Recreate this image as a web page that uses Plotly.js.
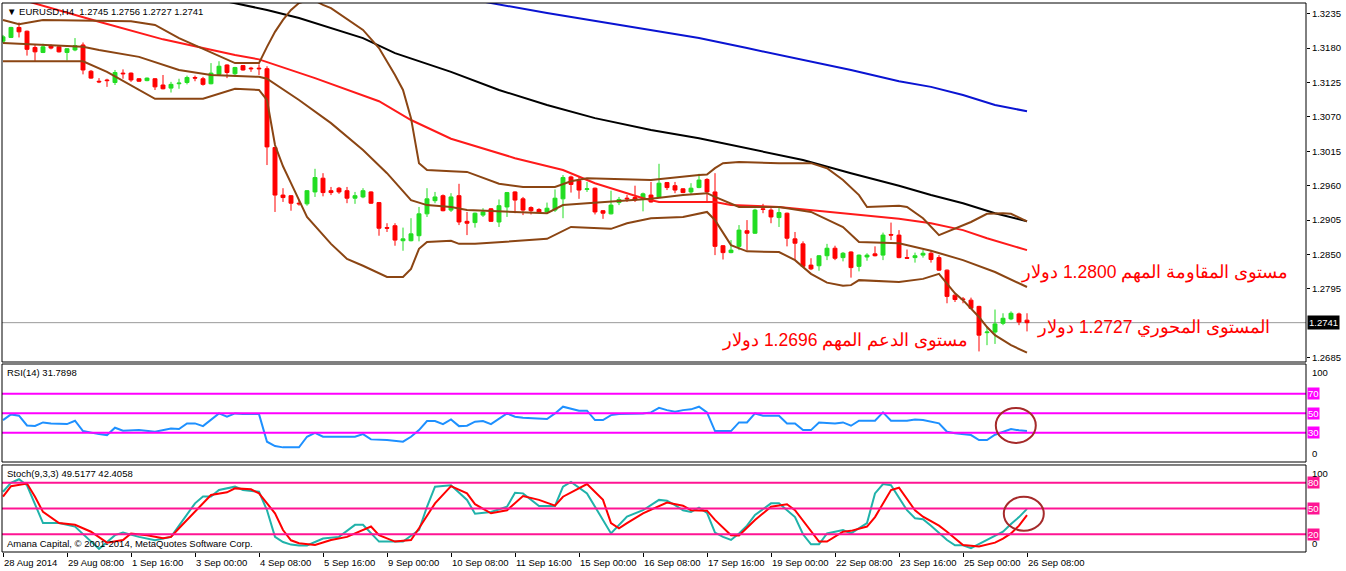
<!DOCTYPE html>
<html><head><meta charset="utf-8">
<script src="https://cdn.plot.ly/plotly-3.0.1.min.js"></script>
<style>html,body{margin:0;padding:0;background:#fff}#chart{width:1346px;height:571px}</style>
</head><body><div id="chart"></div>
<script>
// ---- price data (EURUSD H4), bar index 0 = 28 Aug 2014 00:00 ----
const openP = [1.3191,1.3197,1.3213,1.3207,1.3181,1.3173,1.3184,1.3182,1.3173,1.3177,1.3185,1.3143,1.3127,1.3129,1.3125,1.3140,1.3140,1.3131,1.3128,1.3131,1.3121,1.3116,1.3123,1.3125,1.3133,1.3131,1.3123,1.3138,1.3153,1.3139,1.3152,1.3148,1.3148,1.3147,1.3021,1.2945,1.2944,1.2932,1.2931,1.2950,1.2972,1.2952,1.2956,1.2952,1.2940,1.2942,1.2950,1.2933,1.2893,1.2896,1.2872,1.2872,1.2880,1.2915,1.2936,1.2944,1.2921,1.2944,1.2903,1.2901,1.2913,1.2923,1.2902,1.2926,1.2950,1.2939,1.2925,1.2922,1.2918,1.2921,1.2939,1.2974,1.2968,1.2954,1.2956,1.2920,1.2915,1.2933,1.2940,1.2941,1.2939,1.2945,1.2942,1.2965,1.2960,1.2955,1.2950,1.2957,1.2970,1.2950,1.2864,1.2853,1.2863,1.2888,1.2884,1.2923,1.2921,1.2909,1.2916,1.2875,1.2867,1.2833,1.2832,1.2848,1.2860,1.2845,1.2854,1.2831,1.2846,1.2851,1.2849,1.2882,1.2881,1.2845,1.2845,1.2849,1.2852,1.2845,1.2825,1.2785,1.2779,1.2777,1.2767,1.2725,1.2726,1.2740,1.2747,1.2755,1.2745];
const highP = [1.3201,1.3214,1.3221,1.3208,1.3185,1.3187,1.3186,1.3183,1.3180,1.3196,1.3189,1.3145,1.3132,1.3131,1.3145,1.3146,1.3141,1.3132,1.3133,1.3132,1.3137,1.3126,1.3131,1.3136,1.3136,1.3134,1.3156,1.3159,1.3154,1.3150,1.3153,1.3150,1.3154,1.3151,1.3022,1.2956,1.2945,1.2937,1.2953,1.2987,1.2980,1.2958,1.2958,1.2958,1.2950,1.2956,1.2951,1.2934,1.2900,1.2900,1.2893,1.2908,1.2926,1.2956,1.2950,1.2946,1.2948,1.2963,1.2918,1.2917,1.2924,1.2924,1.2938,1.2950,1.2951,1.2942,1.2927,1.2924,1.2933,1.2954,1.2977,1.2976,1.2974,1.2966,1.2957,1.2921,1.2952,1.2942,1.2945,1.2960,1.2949,1.2966,1.2995,1.2966,1.2966,1.2956,1.2964,1.2979,1.2972,1.2980,1.2865,1.2873,1.2897,1.2905,1.2923,1.2931,1.2924,1.2926,1.2917,1.2886,1.2871,1.2844,1.2849,1.2867,1.2864,1.2854,1.2855,1.2850,1.2852,1.2863,1.2885,1.2901,1.2889,1.2858,1.2853,1.2857,1.2857,1.2849,1.2826,1.2786,1.2782,1.2781,1.2768,1.2735,1.2762,1.2756,1.2759,1.2757,1.2756];
const lowP = [1.3188,1.3196,1.3197,1.3168,1.3158,1.3172,1.3178,1.3173,1.3160,1.3175,1.3138,1.3131,1.3124,1.3118,1.3121,1.3131,1.3126,1.3126,1.3127,1.3113,1.3114,1.3109,1.3115,1.3122,1.3127,1.3120,1.3122,1.3137,1.3132,1.3134,1.3144,1.3142,1.3137,1.2993,1.2918,1.2934,1.2920,1.2928,1.2928,1.2942,1.2943,1.2945,1.2947,1.2932,1.2931,1.2940,1.2931,1.2880,1.2886,1.2864,1.2856,1.2871,1.2871,1.2910,1.2932,1.2919,1.2918,1.2897,1.2881,1.2893,1.2910,1.2902,1.2894,1.2910,1.2916,1.2913,1.2914,1.2916,1.2917,1.2918,1.2908,1.2949,1.2939,1.2950,1.2914,1.2907,1.2914,1.2929,1.2934,1.2934,1.2919,1.2933,1.2941,1.2953,1.2948,1.2948,1.2946,1.2956,1.2934,1.2849,1.2842,1.2852,1.2857,1.2857,1.2883,1.2916,1.2900,1.2894,1.2863,1.2841,1.2830,1.2825,1.2824,1.2841,1.2841,1.2839,1.2813,1.2823,1.2840,1.2847,1.2841,1.2873,1.2844,1.2843,1.2837,1.2845,1.2837,1.2824,1.2772,1.2774,1.2772,1.2763,1.2695,1.2705,1.2707,1.2737,1.2745,1.2737,1.2727];
const closeP = [1.3198,1.3213,1.3206,1.3178,1.3174,1.3182,1.3180,1.3174,1.3179,1.3184,1.3145,1.3132,1.3126,1.3128,1.3141,1.3139,1.3129,1.3127,1.3132,1.3118,1.3115,1.3122,1.3124,1.3133,1.3132,1.3122,1.3140,1.3151,1.3141,1.3149,1.3145,1.3147,1.3147,1.3022,1.2945,1.2941,1.2932,1.2931,1.2952,1.2973,1.2949,1.2949,1.2950,1.2940,1.2944,1.2952,1.2932,1.2892,1.2892,1.2873,1.2875,1.2883,1.2915,1.2939,1.2942,1.2920,1.2942,1.2902,1.2900,1.2916,1.2918,1.2903,1.2928,1.2949,1.2937,1.2921,1.2920,1.2918,1.2924,1.2940,1.2973,1.2962,1.2953,1.2955,1.2918,1.2916,1.2929,1.2938,1.2939,1.2937,1.2947,1.2934,1.2964,1.2957,1.2953,1.2949,1.2956,1.2969,1.2950,1.2863,1.2853,1.2857,1.2889,1.2884,1.2921,1.2922,1.2910,1.2917,1.2876,1.2868,1.2831,1.2827,1.2848,1.2860,1.2844,1.2852,1.2829,1.2849,1.2849,1.2848,1.2881,1.2881,1.2845,1.2844,1.2848,1.2852,1.2842,1.2825,1.2783,1.2778,1.2778,1.2764,1.2721,1.2726,1.2739,1.2748,1.2756,1.2742,1.2741];

// ---- Bollinger Bands (20) read at bar vertices ----
const bbUpX = [0,2,5,16,19,22,29,32,33,34,35,36,37,38,39,40,41,45,47,49,50,51,52,53,56,58,62,65,69,71,73,81,87,88,89,90,92,97,101,103,105,107,108,112,113,115,117,119,121,123,125,126,128];
const bbUp  = [1.3225,1.3218,1.3225,1.3223,1.3217,1.3196,1.3156,1.3156,1.3182,1.3206,1.3225,1.3241,1.3252,1.3256,1.3256,1.3249,1.3244,1.3209,1.3180,1.3137,1.3113,1.3068,1.2996,1.2985,1.2983,1.2982,1.2963,1.2958,1.2958,1.2967,1.2972,1.2969,1.2977,1.2978,1.2988,1.2996,1.2998,1.2996,1.2996,1.2988,1.2969,1.2945,1.2926,1.2928,1.2926,1.2908,1.2881,1.2891,1.2902,1.2915,1.2916,1.2915,1.2903];
const bbMidX = [0,10,12,17,22,26,32,33,37,41,45,48,51,53,56,58,68,70,73,81,85,88,89,92,97,101,105,107,112,116,120,124,128];
const bbMid  = [1.3188,1.3182,1.3177,1.3166,1.3145,1.3137,1.3134,1.3131,1.3097,1.3060,1.3017,1.2980,1.2937,1.2929,1.2926,1.2921,1.2916,1.2929,1.2932,1.2939,1.2945,1.2948,1.2942,1.2926,1.2926,1.2918,1.2894,1.2870,1.2868,1.2856,1.2841,1.2822,1.2798];
const bbLoX = [0,10,13,19,25,29,32,33,34,35,36,38,41,43,45,48,50,51,52,53,56,57,59,68,71,76,78,81,85,88,89,90,91,93,97,99,101,103,105,106,107,112,115,117,118,119,120,121,122,123,124,126,128];
const bbLo  = [1.3159,1.3159,1.3142,1.3099,1.3099,1.3115,1.3113,1.3097,1.3025,1.2991,1.2964,1.2910,1.2867,1.2843,1.2832,1.2814,1.2814,1.2827,1.2859,1.2870,1.2872,1.2867,1.2867,1.2875,1.2894,1.2891,1.2900,1.2908,1.2910,1.2918,1.2905,1.2884,1.2865,1.2855,1.2854,1.2841,1.2819,1.2805,1.2800,1.2801,1.2809,1.2806,1.2811,1.2819,1.2803,1.2788,1.2777,1.2764,1.2750,1.2734,1.2721,1.2705,1.2693];

// ---- moving averages ----
const maRedX = [0,12,20,29,32,39,47,51,56,64,70,74,80,82,89,91,97,101,112,116,120,123,128];
const maRed  = [1.3266,1.3222,1.3194,1.3169,1.3162,1.3132,1.3095,1.3065,1.3035,1.3004,1.2985,1.2964,1.2940,1.2934,1.2934,1.2929,1.2926,1.2921,1.2907,1.2900,1.2889,1.2876,1.2857];
const maBlackX = [20,29,33,37,41,45,49,56,62,68,74,81,87,93,100,106,112,116,120,124,128];
const maBlack  = [1.3276,1.3252,1.3241,1.3228,1.3212,1.3196,1.3172,1.3142,1.3113,1.3089,1.3068,1.3049,1.3036,1.3020,1.3001,1.2980,1.2960,1.2945,1.2932,1.2916,1.2903];
const maBlueX = [55,61,68,74,81,87,93,100,106,112,116,120,124,128];
const maBlue  = [1.3267,1.3252,1.3236,1.3223,1.3209,1.3196,1.3180,1.3161,1.3145,1.3127,1.3118,1.3105,1.3089,1.3079];

// ---- RSI(14) ----
const rsiX = [0,1,2,3,4,5,6,8,9,10,12,13,14,15,17,19,21,22,23,24,25,27,28,29,30,32,33,34,35,37,38,39,40,44,45,46,48,50,51,52,53,54,55,56,57,58,59,60,61,63,64,65,68,69,70,72,73,74,75,76,77,80,81,82,83,84,85,86,87,88,89,91,92,93,94,95,97,98,99,100,101,102,104,105,106,107,109,110,111,113,114,115,117,118,119,121,122,123,124,125,126,127,128];
const rsiV = [43,48.8,47.5,37.5,37,40.6,39.6,38.9,42.3,31.7,28.6,27.6,35.1,32,32.7,31,34.4,33.8,39.6,39.6,36.8,49.8,46.4,49.8,49.1,49.1,20.8,16.3,15,15,25.9,30,25.9,25.9,28.6,23.2,22.5,20.8,25.9,32.7,42,42,38.9,43.7,36.8,37.2,41.3,42,38.9,49.8,46.4,45.4,44,49.8,56.7,52.6,52.6,43,43,48.1,49.1,49.8,50.9,55.6,53.2,51.5,53.2,54,56.7,50.9,31.7,31.7,40.6,40.6,49.8,47.4,47.4,39.6,39.6,32.7,32.7,40.6,39.6,40.6,37.2,42.3,42.3,50.9,42.3,42.3,43.7,43,39.6,31,29.5,27.6,22.5,22.5,28,31,33.8,32.5,31.7898];
const rsiLevels = [70,50,30];

// ---- Stochastic(9,3,3) ----
const stKX = [0,1,2,3,5,7,9,12,14,15,17,19,21,24,25,26,27,29,30,32,33,34,35,36,37,38,40,42,44,45,47,50,52,53,54,56,58,59,61,63,64,65,67,69,70,71,73,76,78,80,82,83,84,85,86,87,88,89,90,91,92,93,94,96,97,99,100,101,102,103,105,106,108,109,110,111,113,114,115,116,118,119,120,121,123,125,126,127,128];
const stK  = [69.5,80,84,77,33,33,29,3,19,22,17,13,17,56,64,64,71.5,75.4,71.5,69.5,48,17,11,8,7,7,15,17,31,31,11.5,11.5,25,52,75.4,77,60,44,46,52,68.4,67.6,53,53,75.4,81,67.6,21,40.5,48,60,59,54,48,46,51,45,22,17,13.4,21,30,42.5,56,56,40,20,8.4,8.4,21,25,21,33,67.6,78.5,77,48,38.6,37.4,30,13.4,7.2,7.2,3.8,13.4,23,32,40,49.5177];
const stDX = [0,1,3,4,5,7,9,11,13,15,16,18,20,21,22,25,26,28,29,31,32,34,35,36,37,39,41,43,46,47,49,51,52,54,56,58,59,61,63,65,67,69,70,73,75,76,77,78,80,83,85,86,88,89,91,92,94,96,98,99,102,103,105,106,108,109,110,111,112,114,115,117,118,120,122,124,125,126,127,128];
const stD  = [63.7,76,79,63.7,46,33,31,23,10.3,13.4,21,19,15.4,17,27,56,65.7,68.8,73.4,72.3,67.6,44.4,25,13,9.6,7.6,13.4,17,29,19,11.5,13.4,27,56,76,67.6,55,44.4,48,64.5,60,53.3,63.7,78.5,60,33,27,33,44.4,57,53.3,48,47.5,36.7,19,18.5,36.7,52,55,48,11.5,11.5,23,24,29,40,55,71.5,74.2,48,40.5,30,23,7.6,5.7,10.3,15,21,30,42.4058];
const stLevels = [80,50,20];

// ---- axis labels ----
const tickBars = [0,8,16,24,32,40,48,56,64,72,80,88,96,104,112,120,128];
const tickLabels = ['28 Aug 2014','29 Aug 08:00','1 Sep 16:00','3 Sep 00:00','4 Sep 08:00','5 Sep 16:00','9 Sep 00:00','10 Sep 08:00','11 Sep 16:00','15 Sep 00:00','16 Sep 08:00','17 Sep 16:00','19 Sep 00:00','22 Sep 08:00','23 Sep 16:00','25 Sep 00:00','26 Sep 08:00'];
// 1.2740 is hidden behind the current-price label in the original
const priceTicks = [1.2685,1.2795,1.2850,1.2905,1.2960,1.3015,1.3070,1.3125,1.3180,1.3235];

// ---- text notes (Arabic) ----
const notes = [
  {text:'مستوى المقاومة المهم 1.2800 دولار', bar:160.9, price:1.2822},
  {text:'المستوى المحوري 1.2727 دولار', bar:158.6, price:1.2733},
  {text:'مستوى الدعم المهم 1.2696 دولار', bar:120.9, price:1.2713}
];

const idx = openP.map((_, i) => i);
const n = idx.length - 1;
const F = 'Liberation Sans, Arial, sans-serif';
const small = {family: F, size: 9.5, color: '#000'};

const traces = [
  {type:'candlestick', x: idx, open: openP, high: highP, low: lowP, close: closeP, xaxis:'x', yaxis:'y',
   increasing:{line:{color:'#22dd22', width:1}, fillcolor:'#22dd22'},
   decreasing:{line:{color:'#ff0000', width:1}, fillcolor:'#ff0000'}, whiskerwidth:0, hoverinfo:'skip'},
  {type:'scatter', mode:'lines', x: maBlueX, y: maBlue, line:{color:'#0a14d2', width:2}, xaxis:'x', yaxis:'y'},
  {type:'scatter', mode:'lines', x: maBlackX, y: maBlack, line:{color:'#000', width:2}, xaxis:'x', yaxis:'y'},
  {type:'scatter', mode:'lines', x: maRedX, y: maRed, line:{color:'#ff1a1a', width:2}, xaxis:'x', yaxis:'y'},
  {type:'scatter', mode:'lines', x: bbUpX, y: bbUp, line:{color:'#8b4513', width:2}, xaxis:'x', yaxis:'y'},
  {type:'scatter', mode:'lines', x: bbMidX, y: bbMid, line:{color:'#8b4513', width:2}, xaxis:'x', yaxis:'y'},
  {type:'scatter', mode:'lines', x: bbLoX, y: bbLo, line:{color:'#8b4513', width:2}, xaxis:'x', yaxis:'y'},
  {type:'scatter', mode:'lines', x: rsiX, y: rsiV, line:{color:'#1e90ff', width:2}, xaxis:'x', yaxis:'y2'},
  {type:'scatter', mode:'lines', x: stKX, y: stK, line:{color:'#20b2aa', width:2}, xaxis:'x', yaxis:'y3'},
  {type:'scatter', mode:'lines', x: stDX, y: stD, line:{color:'#ff0000', width:2}, xaxis:'x', yaxis:'y3'}
];

const dPrice = [0.34608, 1], dRsi = [0.16393, 0.34244], dSt = [0, 0.15847];
const shapes = [];
shapes.push({type:'line', xref:'paper', x0:0, x1:1, yref:'y', y0:closeP[n], y1:closeP[n], line:{color:'#9a9a9a', width:1}, layer:'below'});
rsiLevels.forEach(v => shapes.push({type:'line', xref:'paper', x0:0, x1:1, yref:'y2', y0:v, y1:v, line:{color:'#ff00ff', width:2}, layer:'above'}));
stLevels.forEach(v => shapes.push({type:'line', xref:'paper', x0:0, x1:1, yref:'y3', y0:v, y1:v, line:{color:'#ff1493', width:2}, layer:'above'}));
[dPrice, dRsi, dSt].forEach(d => shapes.push({type:'rect', xref:'paper', yref:'paper', x0:0, x1:1, y0:d[0], y1:d[1], line:{color:'#000', width:1}, fillcolor:'rgba(0,0,0,0)', layer:'above'}));
shapes.push({type:'circle', xref:'x', yref:'y2', x0:124.1, x1:129.1, y0:19.5, y1:55.4, line:{color:'#a52a2a', width:2}, layer:'above'});
shapes.push({type:'circle', xref:'x', yref:'y3', x0:125.1, x1:130.1, y0:24.2, y1:63.7, line:{color:'#a52a2a', width:2}, layer:'above'});

const ann = [];
const f4 = v => v.toFixed(4);
ann.push({xref:'paper', yref:'paper', x:0, y:1, xanchor:'left', yanchor:'top', xshift:3, yshift:-1, showarrow:false,
  text:'▼ EURUSD,H4  ' + [openP[n], highP[n], lowP[n], closeP[n]].map(f4).join(' '), font:small});
ann.push({xref:'paper', yref:'y2', x:0, y:100.5, xanchor:'left', yanchor:'top', xshift:3, yshift:-1, showarrow:false,
  text:'RSI(14) ' + f4(rsiV[rsiV.length-1]), font:small});
ann.push({xref:'paper', yref:'y3', x:0, y:100.6, xanchor:'left', yanchor:'top', xshift:3, yshift:-1, showarrow:false,
  text:'Stoch(9,3,3) ' + f4(stK[stK.length-1]) + ' ' + f4(stD[stD.length-1]), font:small});
ann.push({xref:'paper', yref:'y3', x:0, y:-0.6, xanchor:'left', yanchor:'bottom', xshift:3, yshift:1, showarrow:false,
  text:'Amana Capital, © 2001-2014, MetaQuotes Software Corp.', font:small});
tickBars.forEach((b, i) => ann.push({xref:'x', yref:'paper', x:b, y:0, xanchor:'left', yanchor:'top', xshift:-1, yshift:-3, showarrow:false, text:tickLabels[i], font:small}));
ann.push({xref:'paper', yref:'y', x:1, y:closeP[n], xanchor:'left', yanchor:'middle', xshift:1, showarrow:false,
  text:f4(closeP[n]), font:{family:F, size:9.5, color:'#fff'}, bgcolor:'#000', borderpad:1});
rsiLevels.forEach(v => ann.push({xref:'paper', yref:'y2', x:1, y:v, xanchor:'left', yanchor:'middle', xshift:1, showarrow:false,
  text:String(v), font:{family:F, size:9.5, color:'#fff'}, bgcolor:'#ff00ff', borderpad:0}));
stLevels.forEach(v => ann.push({xref:'paper', yref:'y3', x:1, y:v, xanchor:'left', yanchor:'middle', xshift:1, showarrow:false,
  text:String(v), font:{family:F, size:9.5, color:'#fff'}, bgcolor:'#ff1493', borderpad:0}));
[['y2',100.5,'100','top'],['y2',0,'0','bottom'],['y3',100.6,'100','top'],['y3',-0.6,'0','bottom']].forEach(a =>
  ann.push({xref:'paper', yref:a[0], x:1, y:a[1], xanchor:'left', yanchor:a[3], xshift:4, yshift:a[3]==='top'?-1:1, showarrow:false, text:a[2], font:small}));
notes.forEach(nt => ann.push({xref:'x', yref:'y', x:nt.bar, y:nt.price, xanchor:'right', yanchor:'middle', showarrow:false,
  text:'\u202B' + nt.text + '\u202C', font:{family:F, size:17.5, color:'#ff0000'}}));

const layout = {
  width:1346, height:571, margin:{l:2, r:40, t:3, b:19},
  paper_bgcolor:'#fff', plot_bgcolor:'#fff', showlegend:false, font:{family:F},
  xaxis:{range:[-0.125, 162.875], anchor:'y3', showgrid:false, zeroline:false, showline:false,
    tickmode:'array', tickvals:tickBars, ticktext:tickBars.map(()=>''), ticks:'outside', ticklen:4, tickcolor:'#000',
    rangeslider:{visible:false}, fixedrange:true},
  yaxis:{domain:dPrice, range:[1.26781, 1.32521], side:'right', anchor:'x', showgrid:false, zeroline:false,
    tickmode:'array', tickvals:priceTicks, ticktext:priceTicks.map(f4), ticks:'outside', ticklen:3, tickcolor:'#000',
    tickfont:small, fixedrange:true},
  yaxis2:{domain:dRsi, range:[0, 100.5], side:'right', anchor:'x', showgrid:false, zeroline:false, showticklabels:false, ticks:'', fixedrange:true},
  yaxis3:{domain:dSt, range:[-0.6, 100.6], side:'right', anchor:'x', showgrid:false, zeroline:false, showticklabels:false, ticks:'', fixedrange:true},
  shapes:shapes, annotations:ann
};
Plotly.newPlot('chart', traces, layout, {displayModeBar:false, staticPlot:true});
</script></body></html>
